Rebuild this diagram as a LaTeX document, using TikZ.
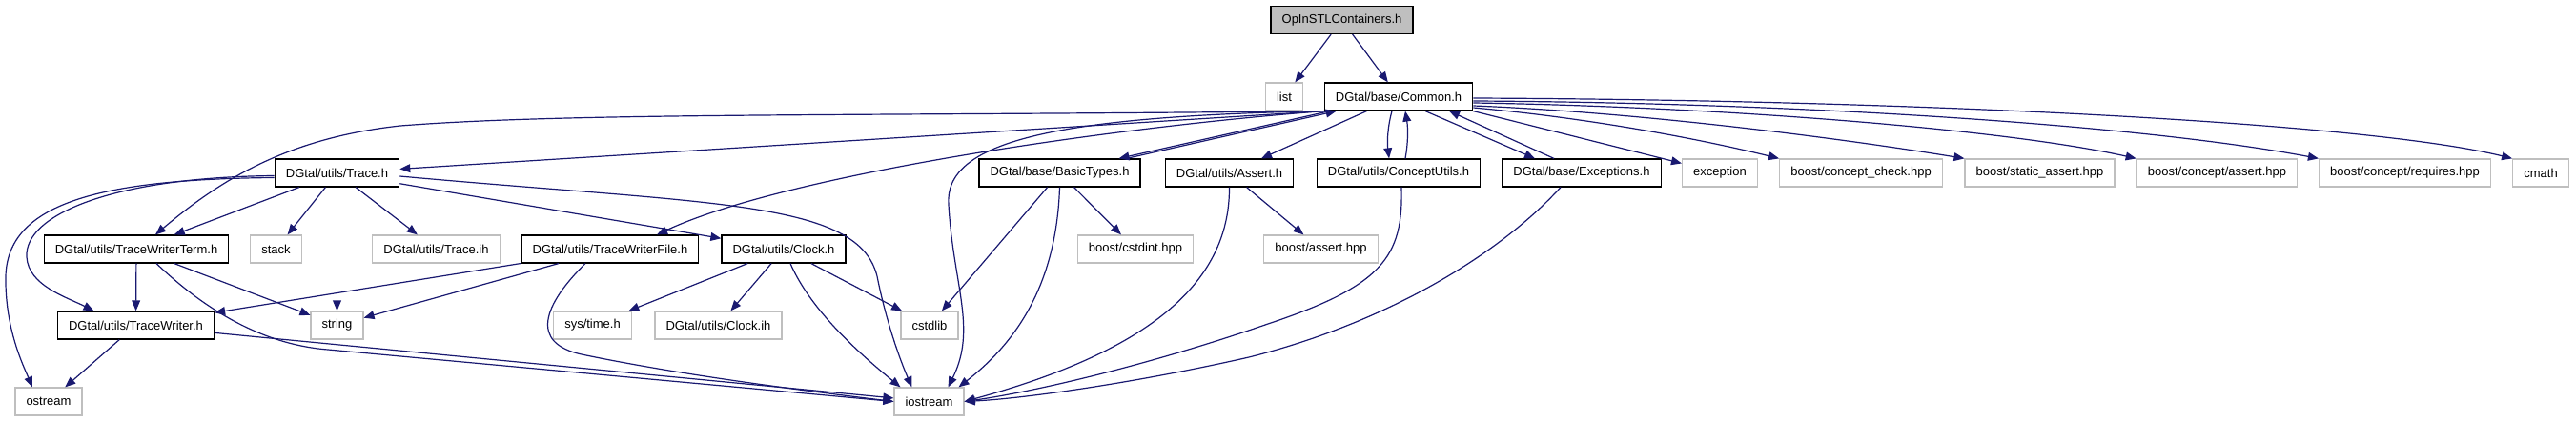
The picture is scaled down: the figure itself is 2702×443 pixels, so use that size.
\documentclass[tikz,border=0pt]{standalone}
\usepackage{xcolor}
\usepackage{fontspec}
\setmainfont{Liberation Sans}
\usepackage{tikz}
\usetikzlibrary{arrows.meta}
\definecolor{kenarMavi}{HTML}{191970}
\definecolor{eksikGri}{HTML}{BFBFBF}
\definecolor{kokGri}{HTML}{BFBFBF}

\begin{document}
\begin{tikzpicture}[x=0.5pt, y=-0.5pt, every node/.style={font=\fontsize{6.5}{7.8}\selectfont},
  hdr/.style={draw=black,fill=white,line width=0.6pt,minimum height=14.5pt,
              inner xsep=5.8pt,inner ysep=0pt},
  ext/.style={hdr,draw=eksikGri},
  root/.style={hdr,fill=kokGri},
  dep/.style={-{Triangle[length=5.5pt,width=4.4pt]},kenarMavi,line width=0.6pt}]
\useasboundingbox (0,0) rectangle (2702,443);
\node[root] (top) at (1407.5,21) {OpInSTLContainers.h};
\node[ext] (list) at (1347,101.5) {list};
\node[hdr] (common) at (1467,101.5) {DGtal/base/Common.h};
\node[hdr] (trace) at (353.5,181.5) {DGtal/utils/Trace.h};
\node[hdr] (basic) at (1111.5,181.5) {DGtal/base/BasicTypes.h};
\node[hdr] (assert) at (1289.5,181.5) {DGtal/utils/Assert.h};
\node[hdr] (concept) at (1467,181.5) {DGtal/utils/ConceptUtils.h};
\node[hdr] (except) at (1659,181.5) {DGtal/base/Exceptions.h};
\node[ext] (exception) at (1804,181.5) {exception};
\node[ext] (cc) at (1952,181.5) {boost/concept\_check.hpp};
\node[ext] (sa) at (2139.5,181.5) {boost/static\_assert.hpp};
\node[ext] (ca) at (2325.5,181.5) {boost/concept/assert.hpp};
\node[ext] (cr) at (2522.5,181.5) {boost/concept/requires.hpp};
\node[ext] (cmath) at (2665,181.5) {cmath};
\node[hdr] (twterm) at (143,261.5) {DGtal/utils/TraceWriterTerm.h};
\node[ext] (stack) at (289.5,261.5) {stack};
\node[ext] (traceih) at (457.5,261.5) {DGtal/utils/Trace.ih};
\node[hdr] (twfile) at (640,261.5) {DGtal/utils/TraceWriterFile.h};
\node[hdr] (clock) at (822,261.5) {DGtal/utils/Clock.h};
\node[ext] (cstdint) at (1191,261.5) {boost/cstdint.hpp};
\node[ext] (bassert) at (1385.5,261.5) {boost/assert.hpp};
\node[hdr] (tw) at (142.5,341.5) {DGtal/utils/TraceWriter.h};
\node[ext] (string) at (353.5,341.5) {string};
\node[ext] (systime) at (621.5,341.5) {sys/time.h};
\node[ext] (clockih) at (753.5,341.5) {DGtal/utils/Clock.ih};
\node[ext] (cstdlib) at (975,341.5) {cstdlib};
\node[ext] (ostream) at (51,421.5) {ostream};
\node[ext] (iostream) at (974.5,421.5) {iostream};
\foreach \x/\y in {top/list, top/common, common/assert, trace/twterm, trace/stack,
  trace/string, trace/traceih, trace/clock, twterm/tw, twterm/string, twfile/tw,
  twfile/string, tw/ostream, tw/iostream, clock/systime, clock/clockih,
  clock/cstdlib, basic/cstdint, basic/cstdlib, assert/bassert}
  \draw[dep] (\x)--(\y);
\draw[dep] (common.south west)--(trace);
\draw[dep] (common.south east)--(exception);
\draw[dep] (common.south west) .. controls (900,122) and (600,118) .. (420,132)
  .. controls (300,145) and (230,190) .. ([xshift=10pt]twterm.north);
\draw[dep] (common.south west) .. controls (1150,135) and (820,185) .. ([xshift=24.5pt]twfile.north);
\draw[dep] (common.south west) .. controls (1100,122) and (990,150) .. (995,215)
  .. controls (1000,300) and (1025,345) .. ([xshift=10pt]iostream.north);
\draw[dep] ([xshift=3pt]common.south west)--([xshift=31pt]basic.north);
\draw[dep] ([xshift=35pt]basic.north)--([xshift=6.5pt]common.south west);
\draw[dep] ([xshift=-3.5pt]common.south) .. controls (1455,135) and (1455,150) .. ([xshift=-5pt]concept.north);
\draw[dep] ([xshift=3.5pt]concept.north) .. controls (1477,150) and (1477,135) .. ([xshift=3.5pt]common.south);
\draw[dep] ([xshift=14pt]common.south)--([xshift=-24.5pt]except.north);
\draw[dep] ([xshift=-14.5pt]except.north)--([xshift=26.5pt]common.south);
\draw[dep] ([yshift=-0.75pt]common.east) .. controls (2000,105) and (2480,128) .. (cmath.north west);
\draw[dep] ([yshift=-2.25pt]common.east) .. controls (1900,108) and (2250,132) .. (cr.north west);
\draw[dep] ([yshift=-3.25pt]common.east) .. controls (1800,112) and (2100,135) .. (ca.north west);
\draw[dep] ([yshift=-4.75pt]common.east) .. controls (1720,118) and (1930,145) .. (sa.north west);
\draw[dep] ([yshift=-5.75pt]common.east) .. controls (1680,125) and (1800,150) .. (cc.north west);
\draw[dep] ([yshift=-1.75pt]trace.east) .. controls (750,215) and (900,210) .. (920,290)
  .. controls (930,340) and (945,380) .. ([xshift=-9pt]iostream.north);
\draw[dep] ([yshift=-1.5pt]trace.west) .. controls (120,186) and (25,225) .. (28,270)
  .. controls (30,300) and (70,312) .. ([xshift=-22pt]tw.north);
\draw[dep] ([yshift=-2.5pt]trace.west) .. controls (100,188) and (8,215) .. (6,290)
  .. controls (5,345) and (25,385) .. ([xshift=-8.5pt]ostream.north);
\draw[dep] ([xshift=10.5pt]twterm.south) .. controls (220,330) and (280,362) .. (344,367)
  -- (iostream.west);
\draw[dep] ([xshift=-13pt]twfile.south) .. controls (570,320) and (555,360) .. (610,372)
  .. controls (720,395) and (860,412) .. (iostream.west);
\draw[dep] ([xshift=3.5pt]clock.south) .. controls (850,325) and (900,370) .. ([xshift=-15pt]iostream.north);
\draw[dep] (basic.south) .. controls (1108,300) and (1065,360) .. ([xshift=15.5pt]iostream.north);
\draw[dep] (assert.south) .. controls (1290,300) and (1200,370) .. (iostream.east);
\draw[dep] ([xshift=1.5pt]concept.south) .. controls (1472,270) and (1450,300) .. (1330,340)
  .. controls (1200,385) and (1080,412) .. (iostream.east);
\draw[dep] ([xshift=-11pt]except.south) .. controls (1570,270) and (1450,340) .. (1310,375)
  .. controls (1200,400) and (1080,418) .. (iostream.east);
\end{tikzpicture}
\end{document}
